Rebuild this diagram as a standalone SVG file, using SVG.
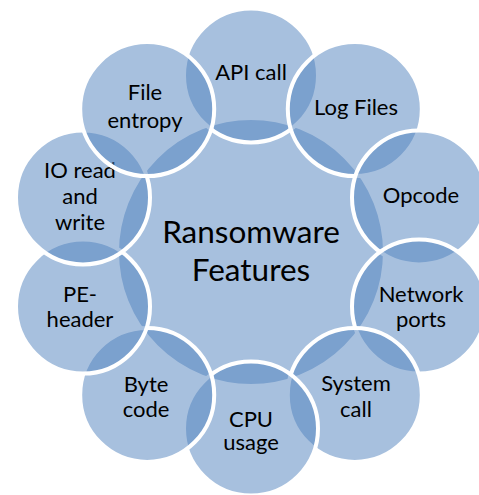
<svg xmlns="http://www.w3.org/2000/svg" width="479" height="495" viewBox="0 0 479 495">
<style>
.c{fill:#4F81BD;fill-opacity:0.5;stroke:#FFFFFF;stroke-width:4}
.t{font-family:Lato,"Liberation Sans",sans-serif;font-size:22px;fill:#000;text-anchor:middle}
.big{font-size:31.5px}
</style>
<rect width="479" height="495" fill="#FFFFFF"/>
<g id="center"><circle class="c" cx="251" cy="252" r="134"/>
<text class="t big" x="251" y="243">Ransomware</text>
<text class="t big" x="251" y="281">Features</text></g>
<g id="api-call"><circle class="c" cx="251" cy="75.4" r="67"/>
<text class="t" x="251" y="80">API call</text></g>
<g id="log-files"><circle class="c" cx="354.8" cy="109.1" r="67"/>
<text class="t" x="356" y="115">Log Files</text></g>
<g id="opcode"><circle class="c" cx="419" cy="197.4" r="67"/>
<text class="t" x="421" y="203">Opcode</text></g>
<g id="network-ports"><circle class="c" cx="419" cy="306.6" r="67"/>
<text class="t" x="421" y="302">Network</text>
<text class="t" x="421" y="327">ports</text></g>
<g id="system-call"><circle class="c" cx="354.8" cy="394.9" r="67"/>
<text class="t" x="356" y="391">System</text>
<text class="t" x="356" y="417">call</text></g>
<g id="cpu-usage"><circle class="c" cx="251" cy="428.6" r="67"/>
<text class="t" x="251" y="427">CPU</text>
<text class="t" x="251" y="450">usage</text></g>
<g id="byte-code"><circle class="c" cx="147.2" cy="394.9" r="67"/>
<text class="t" x="146" y="392">Byte</text>
<text class="t" x="146" y="417">code</text></g>
<g id="pe-header"><circle class="c" cx="83" cy="306.6" r="67"/>
<text class="t" x="80" y="302">PE-</text>
<text class="t" x="80" y="327">header</text></g>
<g id="io-read-write"><circle class="c" cx="83" cy="197.4" r="67"/>
<text class="t" x="80" y="178">IO read</text>
<text class="t" x="80" y="204">and</text>
<text class="t" x="80" y="230">write</text></g>
<g id="file-entropy"><circle class="c" cx="147.2" cy="109.1" r="67"/>
<text class="t" x="145" y="100">File</text>
<text class="t" x="145" y="128">entropy</text></g>
<g id="connectors"/>
</svg>
